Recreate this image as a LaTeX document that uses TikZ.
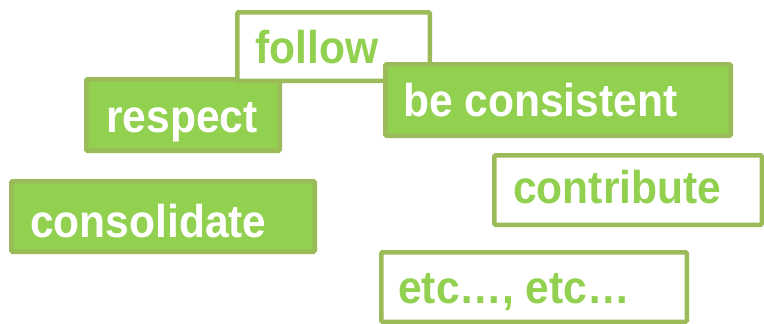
\documentclass[tikz,border=0pt]{standalone}
\usepackage{fontspec}
\newfontfamily\lblfont{Liberation Sans}[FakeStretch=0.925]
\definecolor{gfill}{HTML}{92D050}
\definecolor{gline}{HTML}{9BBB59}
\tikzset{
  boxbase/.style={draw=gline, line width=4.5pt, rounded corners=1.2pt, inner sep=0pt, anchor=north west},
  fullbox/.style={boxbase, fill=gfill},
  openbox/.style={boxbase, fill=white},
  wtext/.style={anchor=base west, inner sep=0pt, text=white, font=\lblfont\bfseries\fontsize{46}{50}\selectfont},
  gtext/.style={wtext, text=gfill},
}
\begin{document}
\begin{tikzpicture}[x=1pt, y=-1pt]
\useasboundingbox (0,0) rectangle (764,324);
% respect (below follow)
\node[fullbox, minimum width=193.5pt, minimum height=71.5pt] (respectbox) at (84,77) {};
\node[wtext] (respect) at (106,132) {respect};
% follow
\node[openbox, minimum width=192.5pt, minimum height=68.5pt] (followbox) at (235,10) {};
\node[gtext] (follow) at (255,63) {follow};
% be consistent
\node[fullbox, minimum width=345.5pt, minimum height=71.5pt] (consbox) at (383,62) {};
\node[wtext] (cons) at (403,116) {be consistent};
% contribute
\node[openbox, minimum width=267.5pt, minimum height=69.5pt] (contribbox) at (492,153) {};
\node[gtext] (contrib) at (513,203) {contribute};
% consolidate
\node[fullbox, minimum width=303.5pt, minimum height=70.5pt] (consolbox) at (9,179) {};
\node[wtext] (consol) at (30,237) {consolidate};
% etc
\node[openbox, minimum width=305.5pt, minimum height=69.5pt] (etcbox) at (379,250) {};
\node[gtext] (etc) at (398,303) {etc…, etc…};
\end{tikzpicture}
\end{document}
